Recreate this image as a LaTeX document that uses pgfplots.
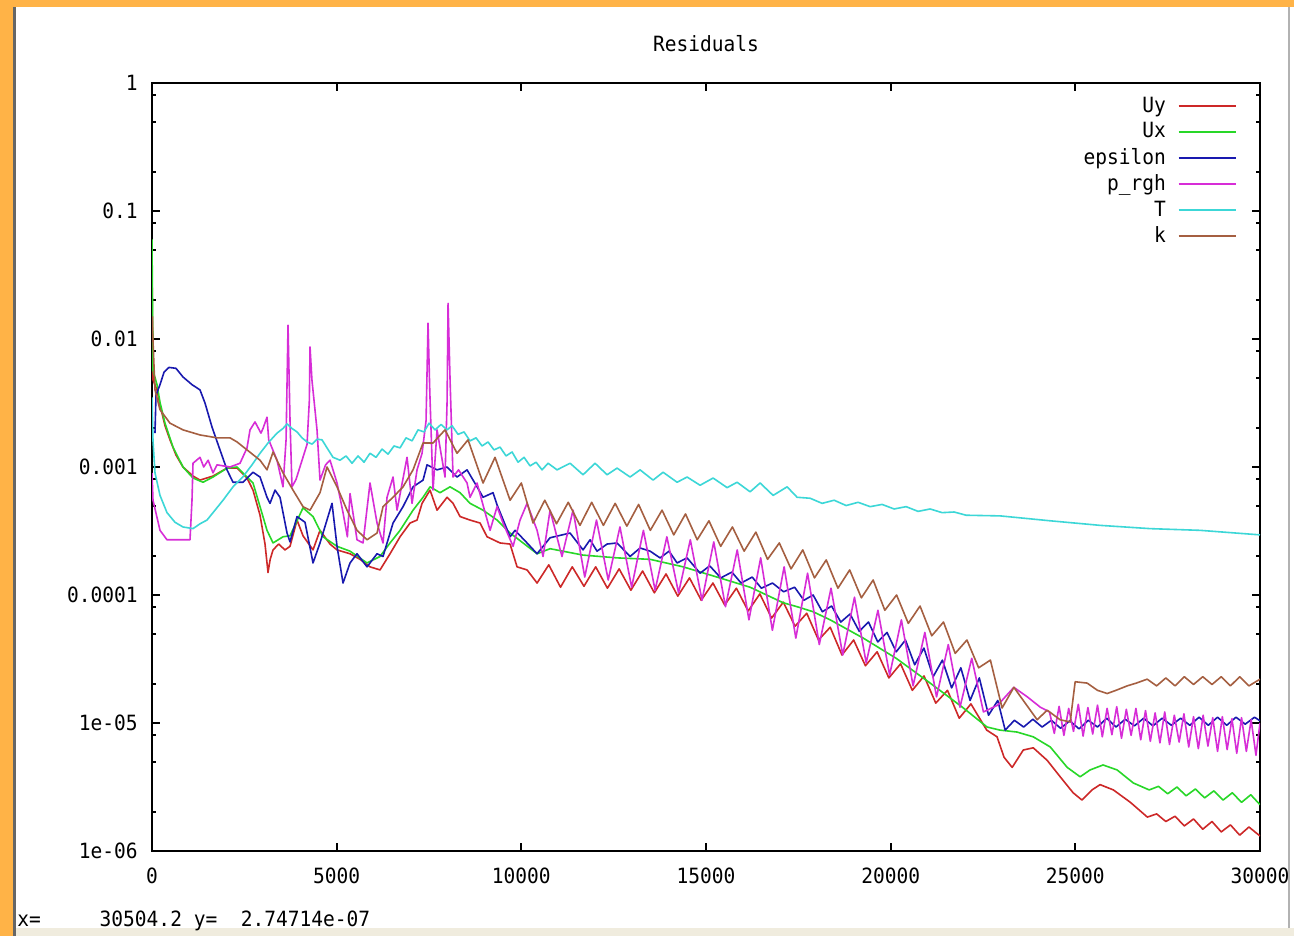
\documentclass[border=0pt]{standalone}
\usepackage{fontspec}
\setmainfont[FakeStretch=0.93]{DejaVu Sans Mono}
\usepackage{pgfplots}
\pgfplotsset{compat=1.18}
\definecolor{cUy}{RGB}{205,40,40}
\definecolor{cUx}{RGB}{40,215,40}
\definecolor{cEps}{RGB}{25,25,175}
\definecolor{cP}{RGB}{215,45,215}
\definecolor{cT}{RGB}{60,215,215}
\definecolor{cK}{RGB}{165,95,65}
\definecolor{orangebg}{RGB}{255,179,71}
\definecolor{beigebar}{RGB}{240,236,222}
\begin{document}
\fontsize{10.5pt}{12.6pt}\selectfont
\begin{tikzpicture}[x=1pt,y=1pt]
\path[use as bounding box] (0,0) rectangle (647,468);
\fill[orangebg] (0,0) rectangle (647,468);
\fill[white] (7.5,4) rectangle (647,464.5);
\fill[black!60] (6.25,0) rectangle (7.75,464.5);
\fill[beigebar] (7.75,0) rectangle (647,4);
\draw[black!30, line width=0.7pt] (644.5,4) -- (644.5,464.5);
\node[anchor=base west, inner sep=0pt] at (8.5,5) {x=\hphantom{00000}30504.2 y=\hphantom{00}2.74714e-07};
\begin{scope}
\clip (7.75,4) rectangle (644.1,464.5);
\begin{axis}[
  at={(76pt,42.5pt)}, anchor=south west,
  width=554pt, height=384pt, scale only axis,
  xmin=0, xmax=30000, ymode=log, ymin=1e-6, ymax=1,
  scaled x ticks=false,
  xtick={0,5000,10000,15000,20000,25000,30000},
  xticklabels={0,5000,10000,15000,20000,25000,30000},
  ytick={1e-6,1e-5,1e-4,1e-3,1e-2,1e-1,1},
  yticklabels={1e-06,1e-05,0.0001,0.001,0.01,0.1,1},
  minor ytick={2e-6,5e-6,8e-6,2e-5,5e-5,8e-5,2e-4,5e-4,8e-4,2e-3,5e-3,8e-3,2e-2,5e-2,8e-2,0.2,0.5,0.8},
  tick align=inside, major tick length=4pt, minor tick length=2pt,
  axis line style={line width=1.4pt},
  every tick/.style={black, line width=1pt},
  yticklabel style={xshift=-3.5pt},
  xticklabel style={yshift=-5pt},
  title={Residuals},
  title style={at={(0.5,1)}, anchor=base, yshift=9.5pt, inner sep=0pt},
  legend plot pos=right,
  legend cell align=right,
  legend image code/.code={\draw[#1, line width=0.9pt] (0pt,0pt) -- (28.5pt,0pt);},
  legend style={at={(1,1)}, anchor=north east, xshift=-11.5pt, yshift=-6.75pt,
    draw=none, fill=none, inner sep=0pt, row sep=3.6pt, column sep=6pt,
    nodes={inner sep=0pt}},
  every axis plot/.append style={line width=0.8pt, line join=round},
  no markers,
]
\addplot[color=cUy] coordinates {(0,3.8e-2) (27,4.8e-3) (135,4.0e-3) (217,3.05e-3) (352,2.1e-3) (487,1.63e-3) (650,1.24e-3) (839,1.0e-3) (1110,8.5e-4) (1300,7.9e-4) (1652,8.5e-4) (2031,9.8e-4) (2302,9.8e-4) (2573,8.2e-4) (2735,6.6e-4) (2925,4.2e-4) (3060,2.5e-4) (3141,1.5e-4) (3200,1.9e-4) (3277,2.25e-4) (3430,2.5e-4) (3600,2.25e-4) (3737,2.4e-4) (3927,3.85e-4) (4089,2.9e-4) (4360,2.25e-4) (4549,3.2e-4) (4820,2.5e-4) (5010,2.25e-4) (5362,2.1e-4) (5633,1.9e-4) (5903,1.66e-4) (6174,1.57e-4) (6445,2.1e-4) (6716,2.85e-4) (6987,3.65e-4) (7176,3.85e-4) (7312,5.2e-4) (7528,6.6e-4) (7718,4.6e-4) (7989,5.8e-4) (8151,5.2e-4) (8341,4.1e-4) (8611,3.85e-4) (8882,3.65e-4) (9072,2.85e-4) (9424,2.55e-4) (9695,2.5e-4) (9884,1.66e-4) (10155,1.57e-4) (10426,1.24e-4) (10743,1.72e-4) (11061,1.15e-4) (11378,1.66e-4) (11696,1.17e-4) (12013,1.66e-4) (12331,1.13e-4) (12648,1.6e-4) (12966,1.09e-4) (13283,1.54e-4) (13601,1.04e-4) (13918,1.46e-4) (14236,9.8e-5) (14553,1.36e-4) (14871,9.1e-5) (15188,1.24e-4) (15506,8.35e-5) (15823,1.13e-4) (16141,7.5e-5) (16458,1.02e-4) (16776,6.6e-5) (17093,8.8e-5) (17411,5.7e-5) (17728,7.2e-5) (18046,4.45e-5) (18363,5.6e-5) (18681,3.4e-5) (18998,4.45e-5) (19316,2.8e-5) (19633,3.6e-5) (19951,2.25e-5) (20268,2.9e-5) (20586,1.8e-5) (20903,2.33e-5) (21221,1.43e-5) (21538,1.8e-5) (21856,1.09e-5) (22173,1.41e-5) (22600,8.8e-6) (22880,7.8e-6) (23070,5.4e-6) (23290,4.5e-6) (23590,6.15e-6) (23860,6.4e-6) (24240,5.1e-6) (24590,3.8e-6) (24940,2.85e-6) (25180,2.5e-6) (25450,3.0e-6) (25670,3.3e-6) (26030,3.0e-6) (26490,2.4e-6) (26950,1.84e-6) (27200,1.95e-6) (27450,1.7e-6) (27700,1.87e-6) (27950,1.57e-6) (28200,1.78e-6) (28450,1.48e-6) (28700,1.7e-6) (28950,1.41e-6) (29200,1.6e-6) (29450,1.33e-6) (29700,1.54e-6) (30000,1.31e-6)};
\addlegendentry{Uy}
\addplot[color=cUx] coordinates {(0,6.0e-2) (27,5.7e-3) (135,4.4e-3) (217,3.2e-3) (352,2.2e-3) (569,1.43e-3) (839,1.0e-3) (1110,8.2e-4) (1381,7.6e-4) (1652,8.35e-4) (2031,9.8e-4) (2302,1.0e-3) (2573,8.35e-4) (2735,7.5e-4) (2925,4.9e-4) (3114,3.2e-4) (3277,2.55e-4) (3547,2.85e-4) (3737,2.9e-4) (4089,4.8e-4) (4360,4.1e-4) (4631,2.85e-4) (5010,2.4e-4) (5362,2.2e-4) (5822,1.78e-4) (6174,2.0e-4) (6445,2.55e-4) (6716,3.2e-4) (7068,4.6e-4) (7339,5.8e-4) (7528,7.0e-4) (7799,6.3e-4) (8070,7.0e-4) (8341,6.3e-4) (8611,5.2e-4) (8963,4.6e-4) (9343,3.85e-4) (9695,3.05e-4) (10047,2.55e-4) (10426,2.1e-4) (10778,2.3e-4) (11671,2.05e-4) (12592,1.95e-4) (13486,1.9e-4) (14380,1.66e-4) (15300,1.38e-4) (16194,1.15e-4) (17088,8.7e-5) (17467,8.1e-5) (17900,7.4e-5) (18360,6.4e-5) (19260,4.6e-5) (20150,3.2e-5) (21070,2.05e-5) (21940,1.33e-5) (22610,9.3e-6) (22960,8.8e-6) (23420,8.5e-6) (23860,7.8e-6) (24320,6.5e-6) (24780,4.5e-6) (25130,3.8e-6) (25400,4.3e-6) (25750,4.7e-6) (26130,4.3e-6) (26570,3.4e-6) (27000,3.0e-6) (27250,3.2e-6) (27500,2.8e-6) (27750,3.16e-6) (28000,2.7e-6) (28250,3.05e-6) (28500,2.6e-6) (28750,2.95e-6) (29000,2.5e-6) (29250,2.85e-6) (29500,2.4e-6) (29750,2.75e-6) (30000,2.3e-6)};
\addlegendentry{Ux}
\addplot[color=cEps] coordinates {(81,1.84e-3) (108,3.65e-3) (217,4.4e-3) (325,5.5e-3) (460,6.0e-3) (650,5.9e-3) (839,5.05e-3) (1083,4.4e-3) (1300,4.0e-3) (1435,3.16e-3) (1625,2.05e-3) (1841,1.36e-3) (2031,9.5e-4) (2193,7.6e-4) (2464,7.6e-4) (2735,9.1e-4) (2925,8.35e-4) (3114,5.8e-4) (3195,5.2e-4) (3331,6.6e-4) (3466,5.8e-4) (3656,3.05e-4) (3737,2.6e-4) (3927,4.1e-4) (4143,3.7e-4) (4360,1.78e-4) (4549,2.55e-4) (4874,5.2e-4) (5010,2.4e-4) (5172,1.24e-4) (5362,1.78e-4) (5551,2.1e-4) (5822,1.66e-4) (6093,2.1e-4) (6255,2.0e-4) (6526,3.65e-4) (6797,4.9e-4) (7068,7.0e-4) (7339,7.9e-4) (7447,1.04e-3) (7718,9.5e-4) (7989,1.0e-3) (8259,8.35e-4) (8530,9.5e-4) (8801,7.0e-4) (8963,5.8e-4) (9234,6.3e-4) (9343,5.05e-4) (9695,2.85e-4) (9830,3.2e-4) (10155,2.55e-4) (10426,2.1e-4) (10778,2.8e-4) (11319,3.05e-4) (11671,2.25e-4) (11860,2.7e-4) (12050,2.2e-4) (12321,2.5e-4) (12592,2.55e-4) (12944,2.0e-4) (13215,2.33e-4) (13486,2.2e-4) (13757,1.95e-4) (14000,2.2e-4) (14217,1.78e-4) (14488,1.95e-4) (14840,1.48e-4) (15100,1.69e-4) (15400,1.36e-4) (15700,1.51e-4) (15950,1.24e-4) (16250,1.38e-4) (16500,1.13e-4) (16800,1.24e-4) (17100,1.06e-4) (17400,1.15e-4) (17650,9.1e-5) (17900,1.0e-4) (18150,7.4e-5) (18400,8.2e-5) (18650,6.15e-5) (18900,7.1e-5) (19150,5.2e-5) (19400,6.15e-5) (19650,4.3e-5) (19900,5.1e-5) (20150,3.6e-5) (20400,4.45e-5) (20650,2.85e-5) (20900,3.85e-5) (21150,2.3e-5) (21400,3.1e-5) (21650,1.88e-5) (21900,2.7e-5) (22150,1.5e-5) (22400,2.25e-5) (22650,1.15e-5) (22900,1.5e-5) (23100,8.8e-6) (23350,1.05e-5) (23600,9.3e-6) (23850,1.07e-5) (24100,9.3e-6) (24350,1.05e-5) (24600,9.1e-6) (24850,1.04e-5) (25100,9.0e-6) (25350,1.05e-5) (25600,9.3e-6) (25850,1.09e-5) (26100,9.3e-6) (26350,1.07e-5) (26600,9.5e-6) (26850,1.09e-5) (27100,9.5e-6) (27350,1.09e-5) (27600,9.6e-6) (27850,1.09e-5) (28100,9.6e-6) (28350,1.11e-5) (28600,9.6e-6) (28850,1.11e-5) (29100,9.6e-6) (29350,1.11e-5) (29600,9.8e-6) (29850,1.11e-5) (30000,1.04e-5)};
\addlegendentry{epsilon}
\addplot[color=cP] coordinates {(0,9.0e-4) (27,5.5e-4) (217,3.2e-4) (406,2.7e-4) (1029,2.7e-4) (1083,5.5e-4) (1110,1.07e-3) (1300,1.19e-3) (1400,1.0e-3) (1520,1.13e-3) (1652,9.0e-4) (1760,1.04e-3) (2112,1.0e-3) (2383,1.07e-3) (2573,1.41e-3) (2654,1.95e-3) (2789,2.25e-3) (2950,1.84e-3) (3006,2.0e-3) (3114,2.45e-3) (3160,1.63e-3) (3385,1.13e-3) (3547,7.0e-4) (3630,1.63e-3) (3683,1.28e-2) (3737,2.3e-3) (3790,7.0e-4) (3900,8.0e-4) (4197,1.5e-3) (4260,3.3e-3) (4279,8.66e-3) (4330,4.8e-3) (4468,1.95e-3) (4549,7.9e-4) (4700,1.04e-3) (4820,1.13e-3) (5010,7.5e-4) (5172,4.4e-4) (5290,2.85e-4) (5362,6.2e-4) (5551,2.7e-4) (5714,2.55e-4) (5903,7.5e-4) (6093,3.65e-4) (6255,2.55e-4) (6364,5.8e-4) (6526,8.35e-4) (6635,4.6e-4) (6905,1.19e-3) (7041,5.2e-4) (7176,9.5e-4) (7312,1.28e-3) (7420,2.3e-3) (7474,1.33e-2) (7520,4.0e-3) (7609,6.6e-4) (7718,1.95e-3) (7934,8.35e-4) (7990,3.3e-3) (8016,1.9e-2) (8070,4.8e-3) (8151,8.35e-4) (8300,9.5e-4) (8530,7.5e-4) (8611,5.8e-4) (8801,7.5e-4) (8950,5.2e-4) (9153,3.2e-4) (9343,4.9e-4) (9505,3.65e-4) (9776,2.4e-4) (9965,3.85e-4) (10155,5.2e-4) (10426,3.2e-4) (10588,2.0e-4) (10778,4.6e-4) (11100,2.0e-4) (11400,4.6e-4) (11717,1.38e-4) (12035,3.85e-4) (12352,1.31e-4) (12670,3.4e-4) (12987,1.15e-4) (13305,3.2e-4) (13622,1.09e-4) (13940,2.85e-4) (14257,1.04e-4) (14575,2.7e-4) (14892,9.1e-5) (15210,2.6e-4) (15527,8.1e-5) (15845,2.25e-4) (16162,6.4e-5) (16480,1.95e-4) (16797,5.3e-5) (17115,1.66e-4) (17432,4.6e-5) (17750,1.48e-4) (18067,4.1e-5) (18385,1.13e-4) (18702,3.4e-5) (19020,9.6e-5) (19337,2.95e-5) (19655,7.6e-5) (19972,2.37e-5) (20290,6.4e-5) (20607,1.95e-5) (20925,5.1e-5) (21242,1.6e-5) (21560,4.1e-5) (21877,1.33e-5) (22195,3.2e-5) (22512,1.22e-5) (22900,1.38e-5) (23335,1.9e-5) (23700,1.6e-5) (24050,1.33e-5) (24300,1.22e-5) (24430,8.3e-6) (24560,1.35e-5) (24690,8.0e-6) (24820,1.3e-5) (24950,8.6e-6) (25080,1.4e-5) (25210,7.9e-6) (25340,1.32e-5) (25470,8.2e-6) (25600,1.38e-5) (25730,7.8e-6) (25860,1.3e-5) (25990,8.1e-6) (26120,1.34e-5) (26250,7.6e-6) (26380,1.28e-5) (26510,8.0e-6) (26640,1.3e-5) (26770,7.4e-6) (26900,1.25e-5) (27030,7.2e-6) (27160,1.2e-5) (27290,7.0e-6) (27420,1.22e-5) (27550,6.8e-6) (27680,1.15e-5) (27810,7.1e-6) (27940,1.18e-5) (28070,6.5e-6) (28200,1.12e-5) (28330,6.3e-6) (28460,1.15e-5) (28590,6.6e-6) (28720,1.1e-5) (28850,6.0e-6) (28980,1.12e-5) (29110,6.2e-6) (29240,1.08e-5) (29370,5.8e-6) (29500,1.1e-5) (29630,6.0e-6) (29760,1.06e-5) (29890,5.6e-6) (30000,1.0e-5)};
\addlegendentry{p\_rgh}
\addplot[color=cT] coordinates {(0,3.5e-3) (27,1.6e-3) (81,9.0e-4) (217,6.0e-4) (406,4.4e-4) (623,3.7e-4) (839,3.4e-4) (1110,3.3e-4) (1300,3.6e-4) (1489,3.85e-4) (1706,4.6e-4) (1923,5.5e-4) (2193,7.0e-4) (2464,8.4e-4) (2708,1.04e-3) (2925,1.28e-3) (3141,1.54e-3) (3385,1.84e-3) (3547,2.0e-3) (3656,2.17e-3) (3790,2.0e-3) (3927,1.88e-3) (4062,1.69e-3) (4197,1.57e-3) (4333,1.51e-3) (4468,1.65e-3) (4604,1.63e-3) (4739,1.41e-3) (4901,1.19e-3) (5091,1.13e-3) (5254,1.22e-3) (5416,1.07e-3) (5579,1.22e-3) (5741,1.09e-3) (5903,1.28e-3) (6066,1.19e-3) (6228,1.38e-3) (6391,1.26e-3) (6553,1.46e-3) (6716,1.41e-3) (6878,1.69e-3) (7041,1.6e-3) (7203,1.95e-3) (7366,1.88e-3) (7501,2.2e-3) (7664,1.95e-3) (7826,2.15e-3) (7989,1.95e-3) (8124,2.1e-3) (8286,1.8e-3) (8449,1.88e-3) (8611,1.6e-3) (8774,1.69e-3) (8936,1.46e-3) (9099,1.57e-3) (9261,1.36e-3) (9424,1.43e-3) (9586,1.22e-3) (9749,1.31e-3) (9911,1.09e-3) (10074,1.19e-3) (10236,1.02e-3) (10399,1.09e-3) (10561,9.5e-4) (10724,1.07e-3) (10967,9.5e-4) (11319,1.07e-3) (11671,8.7e-4) (11996,1.07e-3) (12321,8.7e-4) (12592,9.8e-4) (12944,8.35e-4) (13215,9.5e-4) (13567,7.9e-4) (13838,9.1e-4) (14217,7.6e-4) (14488,8.35e-4) (14840,7.2e-4) (15192,8.2e-4) (15571,6.9e-4) (15842,7.6e-4) (16194,6.4e-4) (16465,7.5e-4) (16817,6.0e-4) (17196,7.0e-4) (17467,5.8e-4) (17819,5.7e-4) (18144,5.2e-4) (18469,5.5e-4) (18794,5.0e-4) (19119,5.3e-4) (19443,4.9e-4) (19768,5.1e-4) (20093,4.7e-4) (20418,4.9e-4) (20743,4.5e-4) (21068,4.7e-4) (21393,4.4e-4) (21718,4.45e-4) (22043,4.2e-4) (22964,4.15e-4) (24318,3.8e-4) (25672,3.5e-4) (27026,3.3e-4) (28380,3.2e-4) (30000,2.95e-4)};
\addlegendentry{T}
\addplot[color=cK] coordinates {(0,1.5e-2) (81,4.0e-3) (217,2.8e-3) (487,2.2e-3) (839,1.95e-3) (1300,1.78e-3) (1760,1.69e-3) (2112,1.69e-3) (2302,1.57e-3) (2573,1.36e-3) (2925,1.13e-3) (3114,9.5e-4) (3277,1.31e-3) (3547,9.0e-4) (3818,6.6e-4) (4089,4.9e-4) (4279,4.6e-4) (4549,6.3e-4) (4739,1.0e-3) (5010,7.0e-4) (5281,4.6e-4) (5551,3.2e-4) (5822,2.7e-4) (6093,3.05e-4) (6255,4.9e-4) (6526,5.8e-4) (6797,7.0e-4) (7068,9.5e-4) (7339,1.54e-3) (7609,1.54e-3) (7934,1.95e-3) (8259,1.28e-3) (8557,1.63e-3) (8963,7.5e-4) (9288,1.19e-3) (9695,5.5e-4) (10000,7.5e-4) (10317,3.65e-4) (10635,5.5e-4) (10952,3.6e-4) (11270,5.3e-4) (11587,3.5e-4) (11905,5.3e-4) (12222,3.5e-4) (12540,5.2e-4) (12857,3.45e-4) (13175,5.1e-4) (13492,3.2e-4) (13810,4.6e-4) (14127,2.95e-4) (14445,4.3e-4) (14762,2.7e-4) (15080,3.8e-4) (15397,2.4e-4) (15715,3.4e-4) (16032,2.2e-4) (16350,3.1e-4) (16667,1.9e-4) (16985,2.55e-4) (17302,1.6e-4) (17620,2.25e-4) (17937,1.36e-4) (18255,1.88e-4) (18572,1.13e-4) (18890,1.57e-4) (19207,9.5e-5) (19525,1.31e-4) (19842,7.6e-5) (20160,1.0e-4) (20477,6.0e-5) (20795,8.2e-5) (21112,4.8e-5) (21430,6.15e-5) (21747,3.5e-5) (22065,4.45e-5) (22382,2.7e-5) (22700,3.1e-5) (23017,1.31e-5) (23335,1.9e-5) (23966,1.06e-5) (24237,1.26e-5) (24589,1.06e-5) (24860,1.02e-5) (24995,2.1e-5) (25320,2.05e-5) (25600,1.8e-5) (25862,1.7e-5) (26100,1.8e-5) (26403,1.95e-5) (26650,2.05e-5) (26945,2.2e-5) (27200,1.95e-5) (27450,2.25e-5) (27700,1.95e-5) (27950,2.3e-5) (28200,2.0e-5) (28450,2.3e-5) (28700,2.0e-5) (28950,2.3e-5) (29200,1.95e-5) (29450,2.3e-5) (29700,1.95e-5) (30000,2.2e-5)};
\addlegendentry{k}
\end{axis}
\end{scope}
\end{tikzpicture}
\end{document}
